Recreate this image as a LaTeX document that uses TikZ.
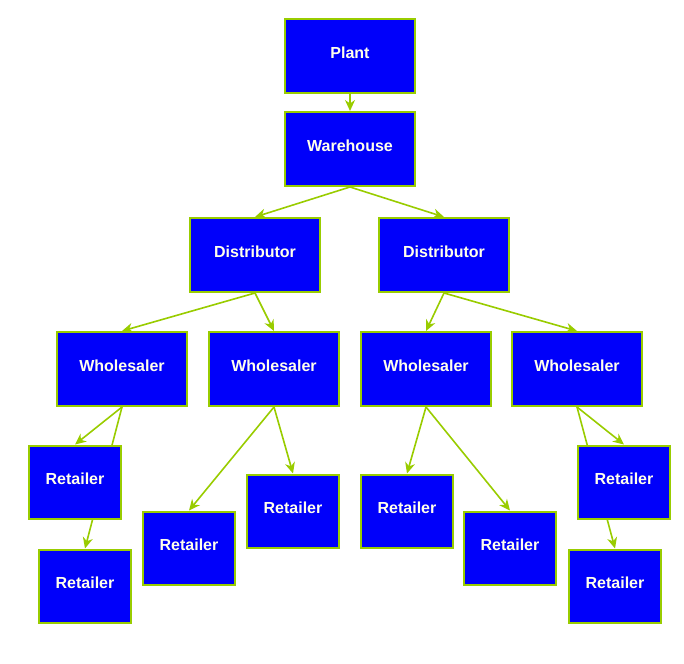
\documentclass[tikz,border=0pt]{standalone}
\usepackage{fontspec}
\setmainfont{Liberation Sans}
\usetikzlibrary{backgrounds,arrows.meta}
\definecolor{boxblue}{RGB}{0,0,250}
\definecolor{edgegreen}{RGB}{153,204,0}
\definecolor{labelwhite}{RGB}{255,255,235}
\begin{document}
\begin{tikzpicture}[x=1pt,y=-1pt,->,>={Stealth[length=11pt,width=10pt,inset=3.5pt]},
        font=\fontsize{16}{18}\selectfont\bfseries,
        chain/.style={draw=edgegreen,line width=2pt,fill=boxblue,text=labelwhite,
            minimum width=130pt,minimum height=74pt,inner sep=0pt,
            text depth=6pt},
        shop/.style={chain,minimum width=92pt,minimum height=73pt},
        link/.style={draw=edgegreen,line width=1.6pt}]
    \useasboundingbox (0,0) rectangle (684,663);
    % top of the chain
    \node [chain] (plant) at (350,56) {Plant};
    \node [chain] (warehouse) at (350,149) {Warehouse};
    \node [chain] (distA) at (255,255) {Distributor};
    \node [chain] (distB) at (444,255) {Distributor};
    % wholesalers
    \node [chain] (wholeA) at (122,369) {Wholesaler};
    \node [chain] (wholeB) at (274,369) {Wholesaler};
    \node [chain] (wholeC) at (426,369) {Wholesaler};
    \node [chain] (wholeD) at (577,369) {Wholesaler};
    % retailers
    \node [shop] (shopA) at (75,482) {Retailer};
    \node [shop] (shopB) at (85,586) {Retailer};
    \node [shop] (shopC) at (189,548) {Retailer};
    \node [shop] (shopD) at (293,511) {Retailer};
    \node [shop] (shopE) at (407,511) {Retailer};
    \node [shop] (shopF) at (510,548) {Retailer};
    \node [shop] (shopG) at (624,482) {Retailer};
    \node [shop] (shopH) at (615,586) {Retailer};
    \begin{pgfonlayer}{background}
        \draw [link] (plant.south)--(warehouse.north);
        \draw [link] (warehouse.south)--(distA.north);
        \draw [link] (warehouse.south)--(distB.north);
        \draw [link] (distA.south)--(wholeA.north);
        \draw [link] (distA.south)--(wholeB.north);
        \draw [link] (distB.south)--(wholeC.north);
        \draw [link] (distB.south)--(wholeD.north);
        \draw [link] (wholeA.south)--(shopA.north);
        \draw [link] (wholeA.south)--(shopB.north);
        \draw [link] (wholeB.south)--(shopC.north);
        \draw [link] (wholeB.south)--(shopD.north);
        \draw [link] (wholeC.south)--(shopE.north);
        \draw [link] (wholeC.south)--(shopF.north);
        \draw [link] (wholeD.south)--(shopG.north);
        \draw [link] (wholeD.south)--(shopH.north);
    \end{pgfonlayer}
\end{tikzpicture}
\end{document}
